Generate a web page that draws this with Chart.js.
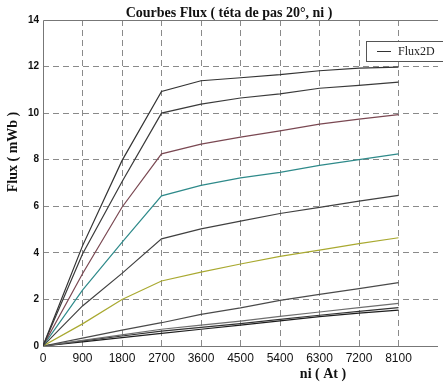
<!DOCTYPE html>
<html>
<head>
<meta charset="utf-8">
<script src="https://cdn.jsdelivr.net/npm/chart.js@4"></script>
<style>
  body { margin: 0; background: #fff; }
  canvas { display: block; }
</style>
</head>
<body>
<canvas id="fluxChart" width="443" height="385"></canvas>
<script>
// ampere-turns (x axis)
const ni = [0, 900, 1800, 2700, 3600, 4500, 5400, 6300, 7200, 8100];

// flux curves, top to bottom (mWb)
const flux1 = [0, 4.3, 7.96, 10.93, 11.39, 11.52, 11.65, 11.82, 11.93, 11.98];
const flux2 = [0, 3.95, 7.05, 10.0, 10.39, 10.65, 10.83, 11.07, 11.19, 11.33];
const flux3 = [0, 3.1, 5.96, 8.25, 8.67, 8.97, 9.24, 9.53, 9.74, 9.94];
const flux4 = [0, 2.4, 4.45, 6.45, 6.9, 7.22, 7.46, 7.76, 8.0, 8.25];
const flux5 = [0, 1.72, 3.12, 4.6, 5.03, 5.36, 5.69, 5.95, 6.22, 6.47];
const flux6 = [0, 0.95, 2.0, 2.79, 3.17, 3.52, 3.85, 4.12, 4.4, 4.65];
const flux7 = [0, 0.34, 0.68, 1.0, 1.36, 1.64, 1.96, 2.22, 2.46, 2.72];
const flux8 = [0, 0.24, 0.48, 0.72, 0.9, 1.07, 1.27, 1.46, 1.65, 1.83];
const flux9 = [0, 0.22, 0.43, 0.64, 0.8, 0.96, 1.14, 1.32, 1.49, 1.65];
const flux10 = [0, 0.18, 0.36, 0.54, 0.72, 0.9, 1.08, 1.26, 1.41, 1.54];

const xTicks = [0, 900, 1800, 2700, 3600, 4500, 5400, 6300, 7200, 8100];
const yTicks = [0, 2, 4, 6, 8, 10, 12, 14];

const allSeries = [flux1, flux2, flux3, flux4, flux5, flux6, flux7, flux8, flux9, flux10];
const lineColors = ['#333333', '#3a3a3a', '#7a4852', '#2e8a8a', '#404040',
                    '#a9a930', '#4a4a4a', '#6e6e6e', '#333333', '#1e1e1e'];

const datasets = allSeries.map((s, i) => ({
    label: i === 0 ? 'Flux2D' : 'curve' + (i + 1),
    data: s.map((v, k) => ({ x: ni[k], y: v })),
    borderColor: lineColors[i],
    borderWidth: 1.2,
    pointRadius: 0,
    fill: false,
    tension: 0
}));

// frame, titles and the small legend box
const decorations = {
    id: 'decorations',
    beforeDatasetsDraw(chart) {
        const { ctx, chartArea: a } = chart;
        ctx.save();
        ctx.strokeStyle = '#777';
        ctx.lineWidth = 1;
        ctx.beginPath();
        ctx.moveTo(a.left + 0.5, a.bottom + 0.5);
        ctx.lineTo(a.left + 0.5, a.top + 0.5);
        ctx.lineTo(a.right, a.top + 0.5);
        ctx.moveTo(a.left, a.bottom + 0.5);
        ctx.lineTo(a.right, a.bottom + 0.5);
        ctx.stroke();
        ctx.restore();
    },
    afterDraw(chart) {
        const { ctx } = chart;
        ctx.save();
        ctx.fillStyle = '#111';
        ctx.font = 'bold 14px "Liberation Serif"';
        ctx.textAlign = 'center';
        ctx.textBaseline = 'middle';
        ctx.fillText('Courbes Flux ( téta de pas 20°, ni )', 229, 13);
        ctx.fillText('ni ( At )', 323, 374);
        ctx.translate(13, 152);
        ctx.rotate(-Math.PI / 2);
        ctx.fillText('Flux ( mWb )', 0, 0);
        ctx.restore();

        // legend
        ctx.save();
        ctx.fillStyle = '#fff';
        ctx.strokeStyle = '#555';
        ctx.lineWidth = 1;
        ctx.fillRect(366, 41, 80, 20);
        ctx.strokeRect(366.5, 41.5, 80, 20);
        ctx.strokeStyle = '#333';
        ctx.beginPath();
        ctx.moveTo(377, 51.5);
        ctx.lineTo(391, 51.5);
        ctx.stroke();
        ctx.fillStyle = '#222';
        ctx.font = '12px "Liberation Serif"';
        ctx.textBaseline = 'middle';
        ctx.fillText('Flux2D', 398, 52);
        ctx.restore();
    }
};

const fluxChart = new Chart(document.getElementById('fluxChart').getContext('2d'), {
    type: 'line',
    data: { datasets: datasets },
    options: {
        responsive: false,
        animation: false,
        devicePixelRatio: 1,
        layout: { padding: { top: 20, right: 0, left: 0, bottom: 0 } },
        plugins: {
            legend: { display: false },
            title: { display: false },
            tooltip: { enabled: false }
        },
        scales: {
            x: {
                type: 'linear',
                min: 0,
                max: 9000,
                afterFit: s => { s.height = 39; },
                afterBuildTicks: s => { s.ticks = xTicks.concat([9000]).map(v => ({ value: v })); },
                ticks: {
                    autoSkip: false,
                    maxRotation: 0,
                    padding: 5,
                    color: '#111',
                    font: { family: '"Liberation Sans"', size: 12 },
                    callback: v => (v === 9000 ? '' : v)
                },
                grid: {
                    drawTicks: false,
                    color: c => (c.tick && (c.tick.value === 0 || c.tick.value === 9000) ? 'rgba(0,0,0,0)' : '#8a8a8a'),
                    lineWidth: 1
                },
                border: { display: false, dash: [6, 4] }
            },
            y: {
                min: 0,
                max: 14,
                afterFit: s => { s.width = 43; },
                afterBuildTicks: s => { s.ticks = yTicks.map(v => ({ value: v })); },
                ticks: {
                    padding: 4,
                    color: '#111',
                    font: { family: '"Liberation Sans"', size: 10, weight: 'bold' }
                },
                grid: {
                    drawTicks: false,
                    color: c => (c.tick && (c.tick.value === 0 || c.tick.value === 14) ? 'rgba(0,0,0,0)' : '#8a8a8a'),
                    lineWidth: 1
                },
                border: { display: false, dash: [6, 4] }
            }
        }
    },
    plugins: [decorations]
});
</script>
</body>
</html>
